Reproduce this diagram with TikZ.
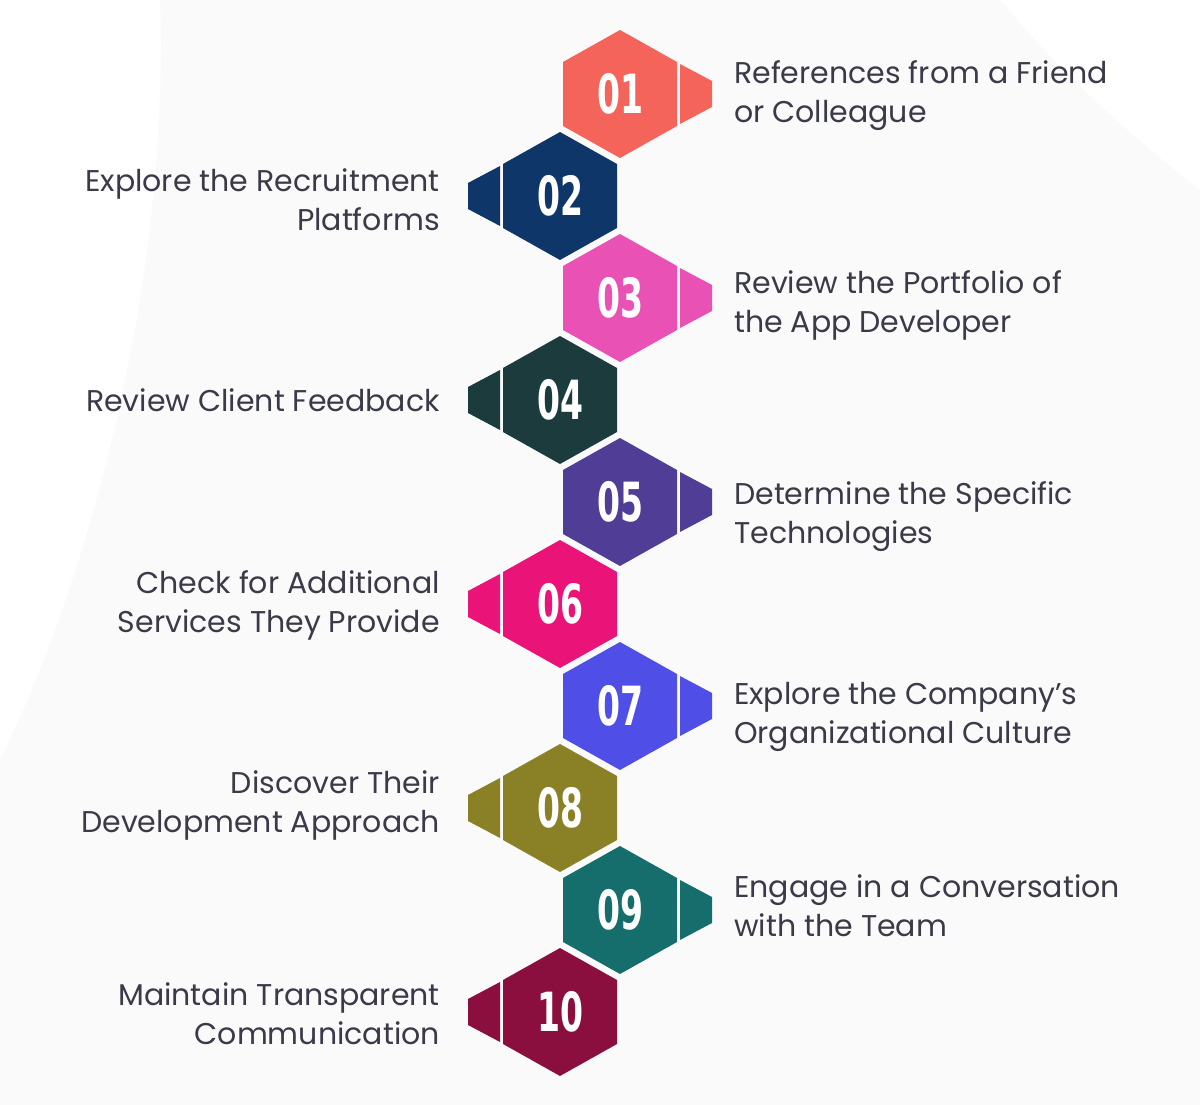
\documentclass[tikz,border=0pt]{standalone}
\usepackage{fontspec}
\setmainfont{Poppins}
\newfontfamily\numfont{DejaVu Sans Condensed}
\definecolor{txt}{HTML}{3A3A48}
\definecolor{c1}{HTML}{F4645A}
\definecolor{c2}{HTML}{0E3668}
\definecolor{c3}{HTML}{E952B4}
\definecolor{c4}{HTML}{1B3B3D}
\definecolor{c5}{HTML}{4F3D96}
\definecolor{c6}{HTML}{EA1478}
\definecolor{c7}{HTML}{4F4FE8}
\definecolor{c8}{HTML}{8A8025}
\definecolor{c9}{HTML}{156E6C}
\definecolor{c10}{HTML}{8B0F3E}
\tikzset{
 num/.style={text=white,font=\numfont\bfseries\fontsize{54}{54}\selectfont,xscale=0.68,inner sep=0},
 lblR/.style={anchor=west,align=left,text=txt,font=\fontsize{30}{39}\selectfont,inner sep=0},
 lblL/.style={anchor=east,align=right,text=txt,font=\fontsize{30}{39}\selectfont,inner sep=0}
}
\newcommand{\hexR}[3]{%
 \fill[#3] (#1,#2-64)--(#1+57,#2-32)--(#1+57,#2+32)--(#1,#2+64)--(#1-57,#2+32)--(#1-57,#2-32)--cycle;
 \fill[#3] (#1+60,#2-30)--(#1+92,#2-13)--(#1+92,#2+13)--(#1+60,#2+30)--cycle;}
\newcommand{\hexL}[3]{%
 \fill[#3] (#1,#2-64)--(#1+57,#2-32)--(#1+57,#2+32)--(#1,#2+64)--(#1-57,#2+32)--(#1-57,#2-32)--cycle;
 \fill[#3] (#1-60,#2-30)--(#1-92,#2-13)--(#1-92,#2+13)--(#1-60,#2+30)--cycle;}
\begin{document}
\begin{tikzpicture}[x=1pt,y=-1pt]
\useasboundingbox (0,0) rectangle (1200,1105);
\fill[white] (0,0) rectangle (1200,1105);
\fill[gray!4] (160,0) .. controls (170,300) and (80,600) .. (0,760) -- (0,1105) -- (1200,1105) -- (1200,190) .. controls (1110,120) and (1050,60) .. (1000,0) -- cycle;
\hexR{620}{94}{c1}   \node[num] (n1) at (620,94) {01};
\hexL{560}{196}{c2}  \node[num] (n2) at (560,196) {02};
\hexR{620}{298}{c3}  \node[num] (n3) at (620,298) {03};
\hexL{560}{400}{c4}  \node[num] (n4) at (560,400) {04};
\hexR{620}{502}{c5}  \node[num] (n5) at (620,502) {05};
\hexL{560}{604}{c6}  \node[num] (n6) at (560,604) {06};
\hexR{620}{706}{c7}  \node[num] (n7) at (620,706) {07};
\hexL{560}{808}{c8}  \node[num] (n8) at (560,808) {08};
\hexR{620}{910}{c9}  \node[num] (n9) at (620,910) {09};
\hexL{560}{1012}{c10}\node[num] (n10) at (560,1012) {10};
\node[lblR] (t1) at (734,96) {References from a Friend\\or Colleague};
\node[lblL] (t2) at (440,200) {Explore the Recruitment\\Platforms};
\node[lblR] (t3) at (734,305) {Review the Portfolio of\\the App Developer};
\node[lblL] (t4) at (440,400) {Review Client Feedback};
\node[lblR] (t5) at (734,517) {Determine the Specific\\Technologies};
\node[lblL] (t6) at (440,605) {Check for Additional\\Services They Provide};
\node[lblR] (t7) at (734,717) {Explore the Company’s\\Organizational Culture};
\node[lblL] (t8) at (440,805) {Discover Their\\Development Approach};
\node[lblR] (t9) at (734,906) {Engage in a Conversation\\with the Team};
\node[lblL] (t10) at (440,1014) {Maintain Transparent\\Communication};
\end{tikzpicture}
\end{document}
